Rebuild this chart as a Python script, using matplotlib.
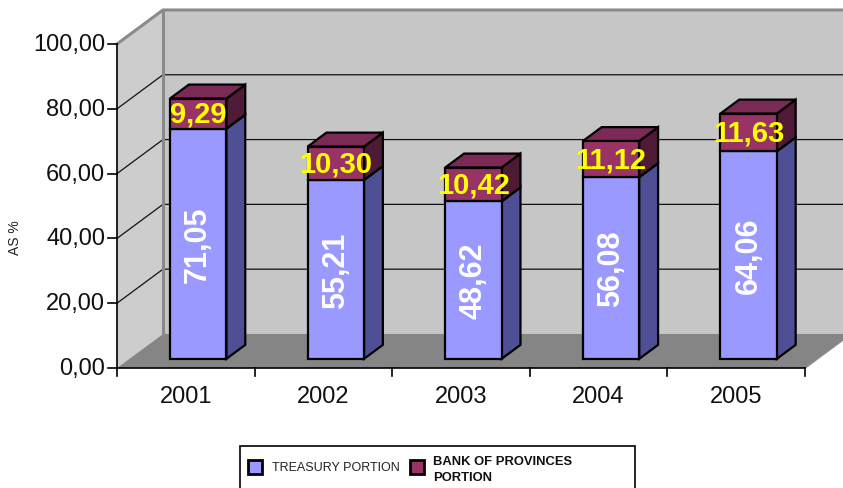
import numpy as np
import matplotlib.pyplot as plt
from matplotlib.patches import Polygon, Rectangle

plt.rcParams['font.family'] = ['Liberation Sans', 'DejaVu Sans']

years = ['2001', '2002', '2003', '2004', '2005']
treasury = [71.05, 55.21, 48.62, 56.08, 64.06]
bank = [9.29, 10.30, 10.42, 11.12, 11.63]
yticks = [0, 20, 40, 60, 80, 100]
ytick_labels = ['0,00', '20,00', '40,00', '60,00', '80,00', '100,00']

W, H = 843, 489
fig = plt.figure(figsize=(W / 100, H / 100), dpi=100)
ax = fig.add_axes([0, 0, 1, 1])
ax.set_xlim(-0.8503, 5.276)
ax.set_ylim(-37.04, 113.89)
ax.axis('off')

# depth of the box (in category / value units) and bar placement in depth
DX, DY = 0.334, 10.5
F0, F1 = 0.27, 0.68
BW = 0.41
n = len(years)


def P(x, v, f):
    return (x + f * DX, v + f * DY)


def poly(pts, fc, ec='none', lw=0, z=1):
    ax.add_patch(Polygon(pts, closed=True, facecolor=fc, edgecolor=ec,
                         linewidth=lw, zorder=z, joinstyle='miter'))


# walls and floor
poly([P(0, 0, 1), P(n + 1, 0, 1), P(n + 1, 100, 1), P(0, 100, 1)], '#c6c6c6', z=1)
poly([P(0, 0, 0), P(0, 0, 1), P(0, 100, 1), P(0, 100, 0)], '#cdcdcd', z=1)
poly([P(0, 0, 0), P(n, 0, 0), P(n, 0, 1), P(0, 0, 1)], '#858585', z=2)
ax.plot(*zip(P(0, 100, 0), P(0, 100, 1), P(n + 1, 100, 1)), color='#8a8a8a', lw=2.2, zorder=3)
ax.plot(*zip(P(0, 0, 1), P(0, 100, 1)), color='#8a8a8a', lw=2.2, zorder=3)
ax.plot(*zip(P(n, 0, 0), P(n, 0, 1)), color='#8a8a8a', lw=1.2, zorder=3)

# gridlines on side and back wall
for v in yticks[1:-1]:
    ax.plot(*zip(P(0, v, 0), P(0, v, 1), P(n + 1, v, 1)), color='#111111', lw=0.9, zorder=2.5)

# axes lines and ticks
ax.plot([0, 0], [0, 100], color='black', lw=1.2, zorder=4)
ax.plot([0, n], [0, 0], color='black', lw=1.2, zorder=4)
for v, lab in zip(yticks, ytick_labels):
    ax.plot([-0.065, 0], [v, v], color='black', lw=1.2, zorder=4)
    ax.text(-0.087, v, lab, ha='right', va='center', fontsize=17, color='#111111')
for i in range(n + 1):
    ax.plot([i, i], [0, -2.6], color='black', lw=1.2, zorder=4)
for i, y in enumerate(years):
    ax.text(i + 0.5, -8.6, y, ha='center', va='center', fontsize=17, color='#111111')
ax.text(-0.741, 40.4, 'AS %', rotation=90, ha='center', va='center', fontsize=10, color='#222222')

# stacked 3D columns
for i in range(n):
    xl, xr = i + 0.5 - BW / 2, i + 0.5 + BW / 2
    segs = [(0, treasury[i], '#9999ff', '#4f4f96', '#7a7ad0'),
            (treasury[i], treasury[i] + bank[i], '#993366', '#4f1a35', '#7a2a55')]
    for b, t, front, side, top in segs:
        poly([P(xr, b, F0), P(xr, b, F1), P(xr, t, F1), P(xr, t, F0)], side, 'black', 1.6, 5)
        poly([P(xl, t, F0), P(xr, t, F0), P(xr, t, F1), P(xl, t, F1)], top, 'black', 1.6, 5)
        poly([P(xl, b, F0), P(xr, b, F0), P(xr, t, F0), P(xl, t, F0)], front, 'black', 1.6, 6)
    cx, cy = P(i + 0.5, treasury[i] / 2, F0)
    ax.text(cx, cy, f'{treasury[i]:.2f}'.replace('.', ','), rotation=90, ha='center',
            va='center', fontsize=22, fontweight='bold', color='white', zorder=7)
    cx, cy = P(i + 0.5, treasury[i] + bank[i] / 2, F0)
    ax.text(cx, cy, f'{bank[i]:.2f}'.replace('.', ','), ha='center', va='center',
            fontsize=21, fontweight='bold', color='#ffff00', zorder=7)

# legend box, partly cut at the bottom edge
def fx(px):
    return px / W


def fy(py):
    return 1 - py / H


fig.patches.append(Rectangle((fx(240), fy(500)), fx(635) - fx(240), fy(447) - fy(500),
                             transform=fig.transFigure, facecolor='white', edgecolor='black', lw=1.2))
fig.patches.append(Rectangle((fx(248), fy(475)), fx(14), 14 / H, transform=fig.transFigure,
                             facecolor='#9999ff', edgecolor='black', lw=2))
fig.patches.append(Rectangle((fx(410), fy(475)), fx(14), 14 / H, transform=fig.transFigure,
                             facecolor='#993366', edgecolor='black', lw=2))
fig.text(fx(272), fy(468), 'TREASURY PORTION', fontsize=9, color='#222222', ha='left', va='center')
fig.text(fx(433), fy(470), 'BANK OF PROVINCES\nPORTION', fontsize=9.4, fontweight='bold',
         color='#111111', ha='left', va='center', linespacing=1.45)

fig.savefig('out.png', dpi=100, facecolor='white')
